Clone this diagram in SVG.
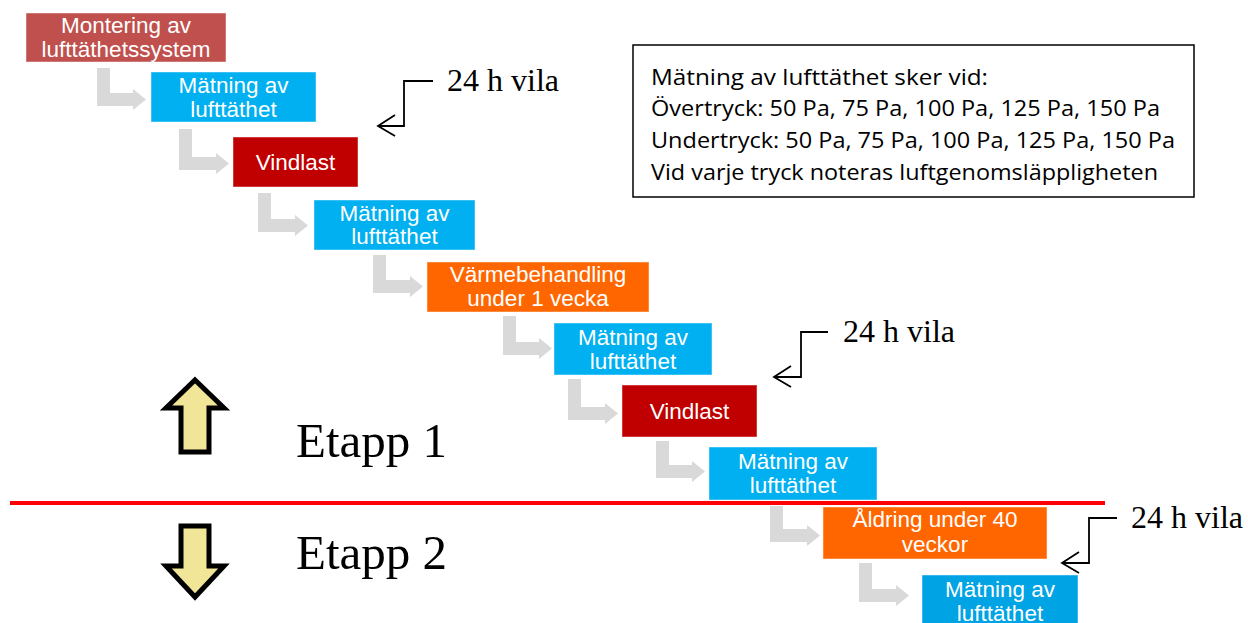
<svg xmlns="http://www.w3.org/2000/svg" width="1248" height="623" viewBox="0 0 1248 623">
<style>
.box{stroke:#ffffff;stroke-opacity:0.45;stroke-width:1}
.bt{font-family:"Liberation Sans",Arial,sans-serif;font-size:22.5px;fill:#ffffff;text-anchor:middle}
.conn{fill:#D9D9D9;stroke:none}
.call{fill:none;stroke:#000000;stroke-width:1.8}
.ct{font-family:"Liberation Serif","DejaVu Serif",serif;font-size:32px;fill:#000000}
.et{font-family:"Liberation Serif","DejaVu Serif",serif;font-size:49px;fill:#000000}
.it{font-family:"Open Sans","Noto Sans",sans-serif;font-size:22px;fill:#000000}
.big{fill:#F1E598;stroke:#000000;stroke-width:5;stroke-linejoin:miter}
</style>
<rect width="1248" height="623" fill="#ffffff"/>

<g id="connectors">
<path class="conn" d="M97,68 H110 V93 H133 V89 L146,99.5 L133,110 V106 H97 Z"/>
<path class="conn" d="M179,129 H192 V157 H216 V153 L229,163.5 L216,174 V170 H179 Z"/>
<path class="conn" d="M258,193 H271 V219 H295 V215 L308,225.5 L295,236 V232 H258 Z"/>
<path class="conn" d="M373,255 H386 V280 H410 V276 L423,286.5 L410,297 V293 H373 Z"/>
<path class="conn" d="M503,316 H516 V342 H539 V338 L552,348.5 L539,359 V355 H503 Z"/>
<path class="conn" d="M568,379 H581 V407 H605 V403 L618,413.5 L605,424 V420 H568 Z"/>
<path class="conn" d="M656,441 H669 V465 H692 V461 L705,471.5 L692,482 V478 H656 Z"/>
<path class="conn" d="M770,506 H783 V529 H807 V525 L820,535.5 L807,546 V542 H770 Z"/>
<path class="conn" d="M859,563 H872 V589 H896 V585 L909,595.5 L896,606 V602 H859 Z"/>
</g>

<g id="n1"><rect class="box" x="26" y="13" width="200" height="49" fill="#C0504D"/>
<text class="bt" x="126" y="32.5">Montering av</text><text class="bt" x="126" y="56.5">lufttäthetssystem</text></g>
<g id="n2"><rect class="box" x="151" y="72" width="165" height="50" fill="#00B0F0"/>
<text class="bt" x="233.5" y="93">Mätning av</text><text class="bt" x="233.5" y="116.5">lufttäthet</text></g>
<g id="n3"><rect class="box" x="233" y="137" width="125" height="50" fill="#C00000"/>
<text class="bt" x="295.5" y="170">Vindlast</text></g>
<g id="n4"><rect class="box" x="314" y="200" width="161" height="50" fill="#00B0F0"/>
<text class="bt" x="394.5" y="220.5">Mätning av</text><text class="bt" x="394.5" y="244">lufttäthet</text></g>
<g id="n5"><rect class="box" x="427" y="262" width="222" height="50" fill="#FF6600"/>
<text class="bt" x="538" y="281.5">Värmebehandling</text><text class="bt" x="538" y="306">under 1 vecka</text></g>
<g id="n6"><rect class="box" x="554" y="323" width="158" height="52" fill="#00B0F0"/>
<text class="bt" x="633" y="345">Mätning av</text><text class="bt" x="633" y="369">lufttäthet</text></g>
<g id="n7"><rect class="box" x="622" y="385" width="135" height="52" fill="#C00000"/>
<text class="bt" x="689.5" y="418.5">Vindlast</text></g>
<g id="n8"><rect class="box" x="709" y="447" width="168" height="53" fill="#00B0F0"/>
<text class="bt" x="793" y="468.5">Mätning av</text><text class="bt" x="793" y="492.5">lufttäthet</text></g>
<g id="n9"><rect class="box" x="823" y="507" width="224" height="52" fill="#FF6600"/>
<text class="bt" x="935" y="527">Åldring under 40</text><text class="bt" x="935" y="552">veckor</text></g>
<g id="n10"><rect class="box" x="922" y="575" width="156" height="52" fill="#00A3E4"/>
<text class="bt" x="1000" y="597">Mätning av</text><text class="bt" x="1000" y="620.5">lufttäthet</text></g>

<g id="divider"><line x1="10" y1="503" x2="1105" y2="503" stroke="#FF0000" stroke-width="4"/></g>

<g id="callout1">
<polyline class="call" points="433,81 404,81 404,126 378,126"/>
<polyline class="call" points="395,115 378,126 395,136"/>
<text class="ct" x="447" y="91">24 h vila</text>
</g>
<g id="callout2">
<polyline class="call" points="828,332 801,332 801,377 774,377"/>
<polyline class="call" points="791,366 774,377 791,387"/>
<text class="ct" x="843" y="342">24 h vila</text>
</g>
<g id="callout3">
<polyline class="call" points="1117,518 1089,518 1089,563 1062,563"/>
<polyline class="call" points="1079,552 1062,563 1079,573"/>
<text class="ct" x="1131" y="528">24 h vila</text>
</g>

<g id="info">
<rect x="633" y="45" width="561" height="152" fill="#ffffff" stroke="#000000" stroke-width="1.5"/>
<text class="it" x="651" y="85" textLength="337" lengthAdjust="spacingAndGlyphs">Mätning av lufttäthet sker vid:</text>
<text class="it" x="651" y="116" textLength="509" lengthAdjust="spacingAndGlyphs">Övertryck: 50 Pa, 75 Pa, 100 Pa, 125 Pa, 150 Pa</text>
<text class="it" x="651" y="148" textLength="524" lengthAdjust="spacingAndGlyphs">Undertryck: 50 Pa, 75 Pa, 100 Pa, 125 Pa, 150 Pa</text>
<text class="it" x="651" y="180" textLength="507" lengthAdjust="spacingAndGlyphs">Vid varje tryck noteras luftgenomsläppligheten</text>
</g>

<g id="etapp1">
<path class="big" d="M195,380 L224,408 H209 V452 H181 V408 H166 Z"/>
<text class="et" x="296" y="457">Etapp 1</text>
</g>
<g id="etapp2">
<path class="big" d="M181,526 H209 V566 H224 L195,597 L166,566 H181 Z"/>
<text class="et" x="296" y="569">Etapp 2</text>
</g>
</svg>
